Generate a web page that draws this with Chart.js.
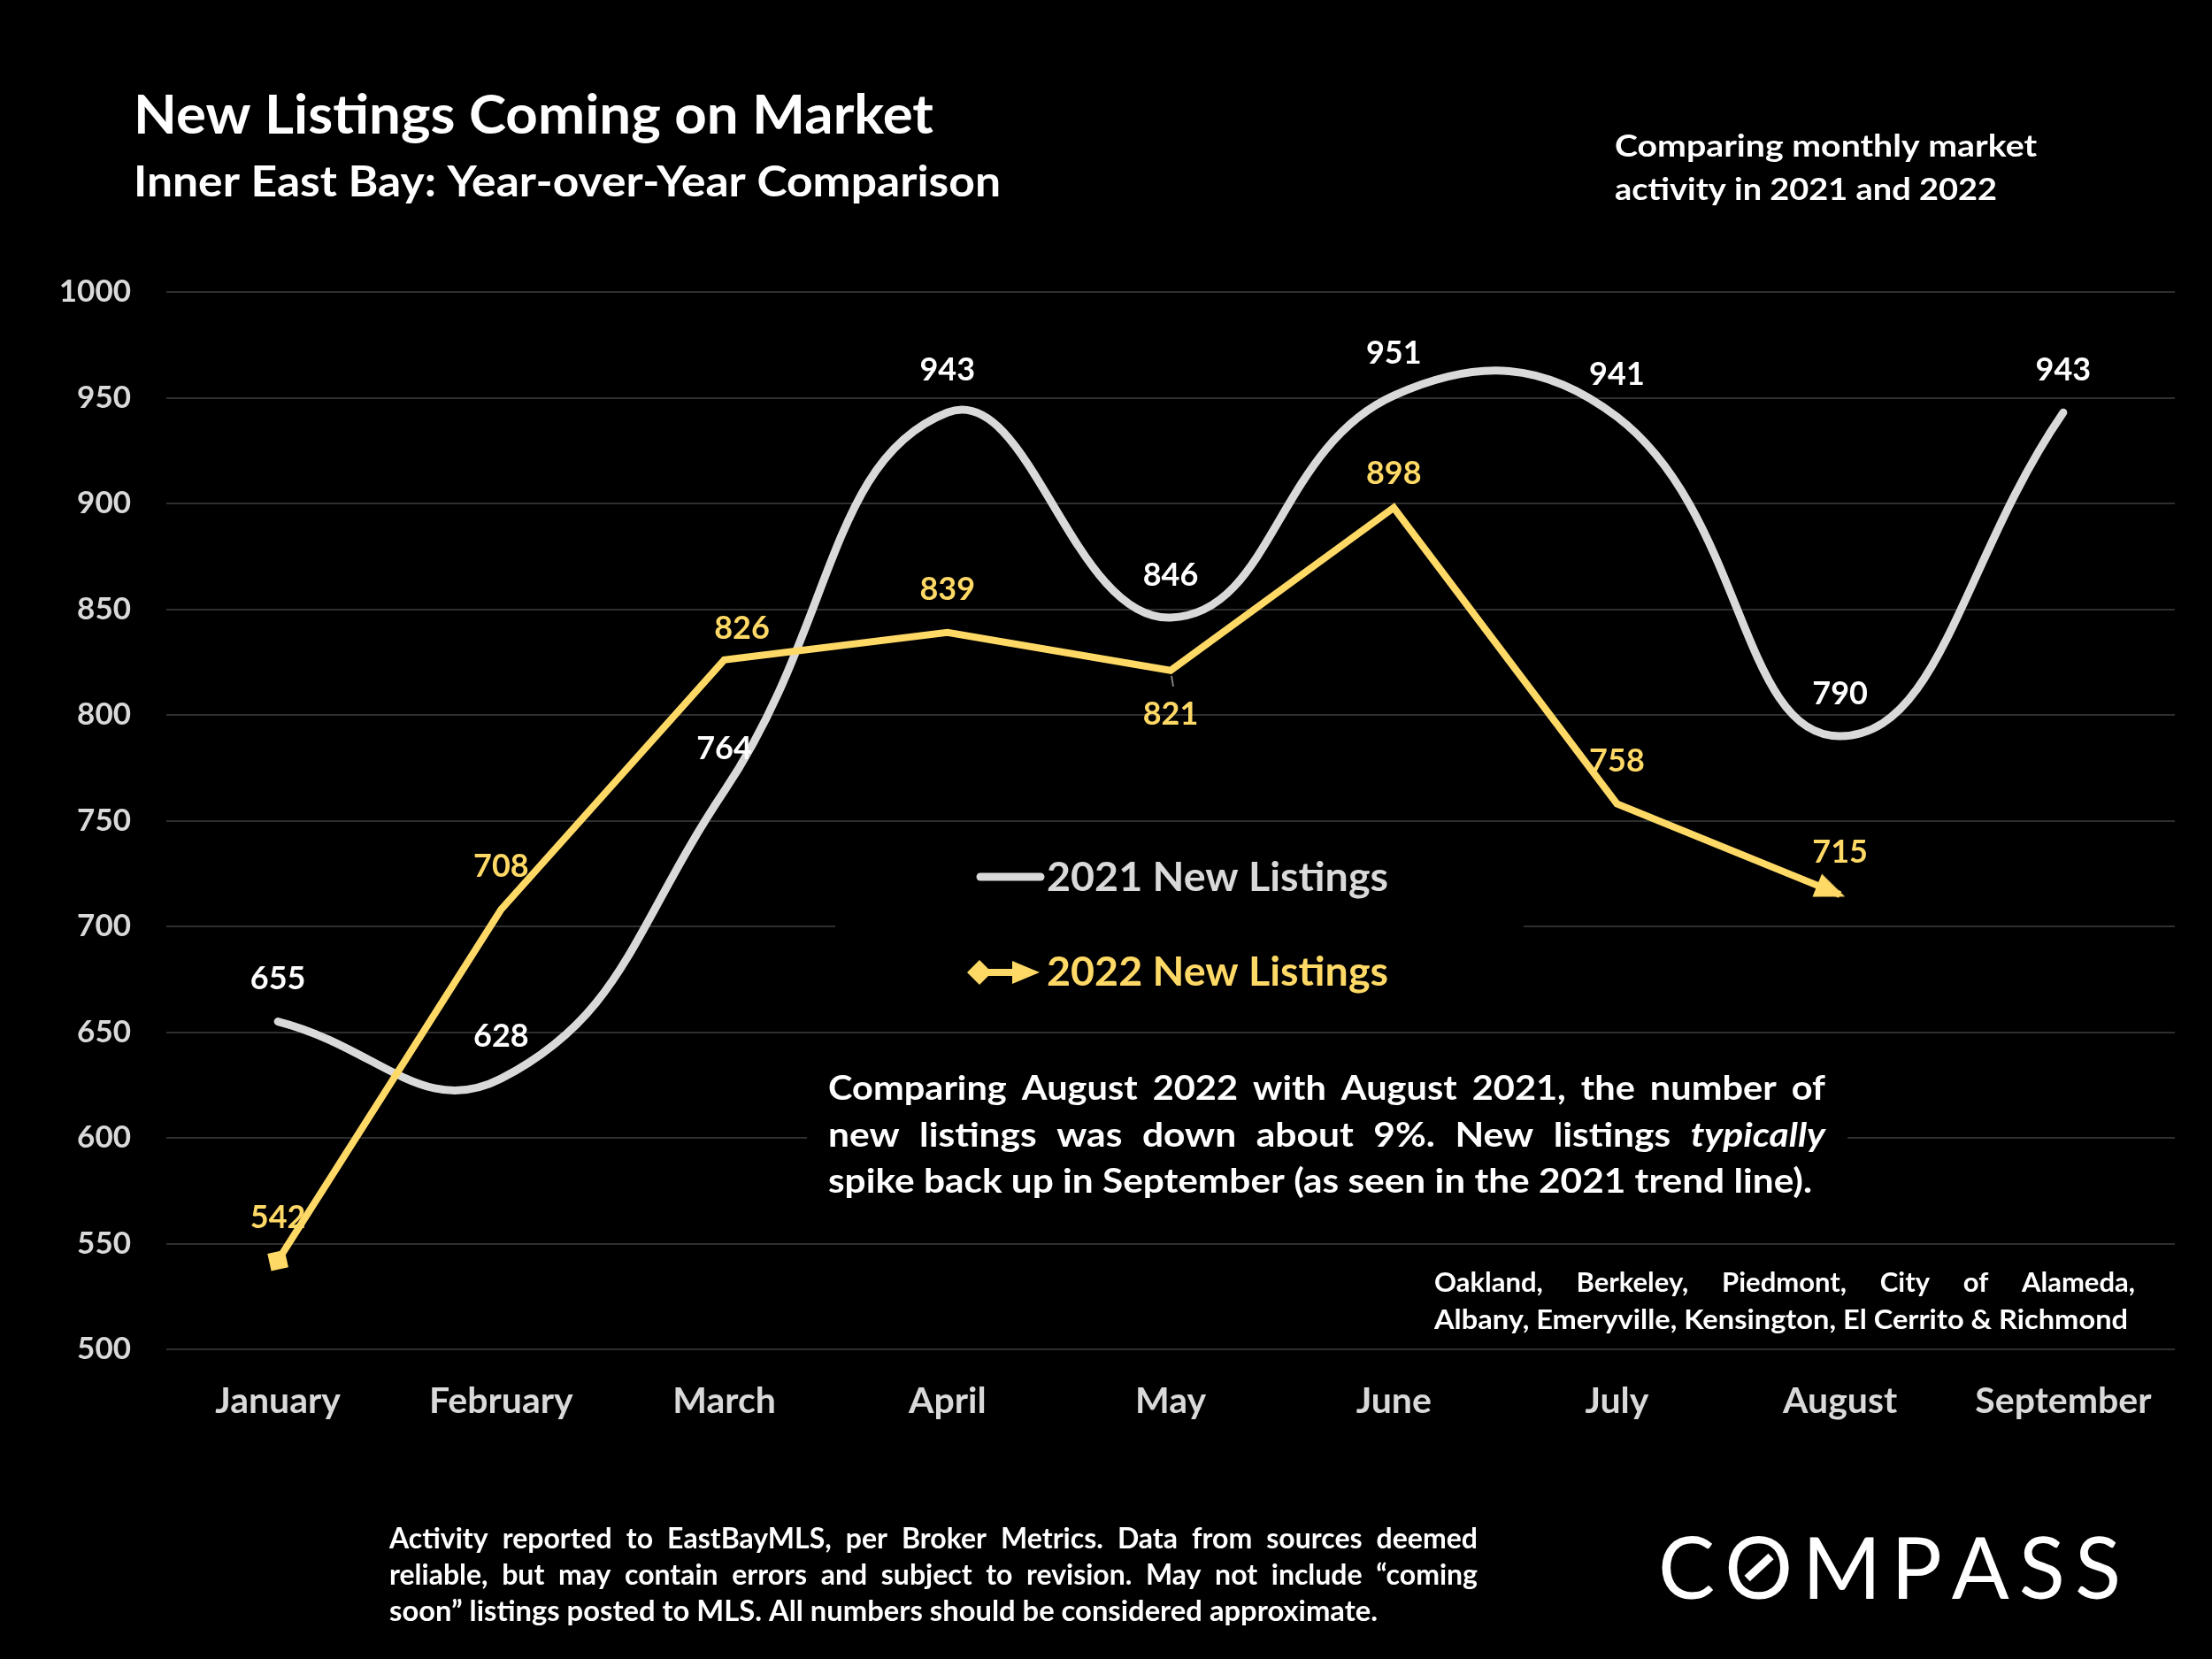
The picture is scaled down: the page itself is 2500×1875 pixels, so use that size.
<!DOCTYPE html>
<html>
<head>
<meta charset="utf-8">
<script src="https://cdn.jsdelivr.net/npm/chart.js@4.4.0/dist/chart.umd.min.js"></script>
<style>
html,body{margin:0;padding:0;background:#000;}
#c{display:block;}
</style>
</head>
<body>
<canvas id="c" width="2500" height="1875" style="width:2500px;height:1875px"></canvas>
<script>
// ---------- DATA ----------
const months = ['January','February','March','April','May','June','July','August','September'];
const listings2021 = [655, 628, 764, 943, 846, 951, 941, 790, 943];
const listings2022 = [542, 708, 826, 839, 821, 898, 758, 715];
const seriesNames = ['2021 New Listings', '2022 New Listings'];
const yMin = 500, yMax = 1000, yStep = 50;

// ---------- STYLE ----------
const FONT = 'Lato, "Open Sans", "Noto Sans", sans-serif';
const GRAY = '#D9D9D9';
const GOLD = '#FFD966';
// label offsets (style only)
const labelDy2021 = [-48, -48, -48, -48, -48, -48, -48, -48, -48];
const labelDy2022 = [-48, -48, -35, -48, 50, -38, -48, -48];
const labelDx2022 = [0, 0, 20, 0, 0, 0, 0, 0];

function makeArrow(len, half, color, overshoot) {
  const size = Math.ceil((len + overshoot) * 2 + 4);
  const c = document.createElement('canvas');
  c.width = size; c.height = size;
  const g = c.getContext('2d');
  const cx = size / 2 + overshoot, cy = size / 2;
  g.fillStyle = color;
  g.beginPath();
  g.moveTo(cx, cy);
  g.lineTo(cx - len, cy - half);
  g.lineTo(cx - len, cy + half);
  g.closePath();
  g.fill();
  return c;
}
const arrowImg = makeArrow(34, 14, GOLD, 6);

function segAngle(c) {
  const ds = c.dataset.data, i = c.dataIndex;
  const xs = c.chart.scales.x, ys = c.chart.scales.y;
  if (!xs || !ys) return 0;
  const j = i === 0 ? 1 : i - 1;
  const x0 = xs.getPixelForValue(i), y0 = ys.getPixelForValue(ds[i]);
  const x1 = xs.getPixelForValue(j), y1 = ys.getPixelForValue(ds[j]);
  return Math.atan2(y0 - y1, x0 - x1) * 180 / Math.PI;
}

// ---------- TEXT HELPERS ----------
function fitText(ctx, text, x, y, w, font, color) {
  ctx.save();
  ctx.font = font;
  ctx.fillStyle = color;
  ctx.textBaseline = 'alphabetic';
  ctx.textAlign = 'left';
  const m = ctx.measureText(text).width;
  ctx.translate(x, y);
  ctx.scale(w / m, 1);
  ctx.fillText(text, 0, 0);
  ctx.restore();
}

// words: array of [text, italic]
function drawWords(ctx, words, x, y, w, size, color, justify, targetGap, kMax) {
  ctx.save();
  ctx.fillStyle = color;
  ctx.textBaseline = 'alphabetic';
  ctx.textAlign = 'left';
  const fN = 'bold ' + size + 'px ' + FONT;
  const fI = 'italic bold ' + size + 'px ' + FONT;
  const widths = words.map(([t, it]) => { ctx.font = it ? fI : fN; return ctx.measureText(t).width; });
  ctx.font = fN;
  const sp = ctx.measureText(' ').width;
  const sum = widths.reduce((a, b) => a + b, 0);
  const n = words.length;
  let k = 1, gap = sp;
  if (justify) {
    const tg = targetGap || sp;
    k = (w - tg * (n - 1)) / sum;
    k = Math.min(k, kMax || 1);
    k = Math.max(k, 0.8);
    gap = (w - k * sum) / (n - 1);
  } else {
    const nat = sum + sp * (n - 1);
    k = w / nat;
    gap = sp * k;
  }
  let cx = x;
  words.forEach(([t, it], i) => {
    ctx.save();
    ctx.font = it ? fI : fN;
    ctx.translate(cx, y);
    ctx.scale(k, 1);
    ctx.fillText(t, 0, 0);
    ctx.restore();
    cx += widths[i] * k + gap;
  });
  ctx.restore();
}
function words(str, italicSet) {
  return str.split(' ').map(t => [t, italicSet ? italicSet.includes(t) : false]);
}

// ---------- DECORATION PLUGIN ----------
const decor = {
  id: 'decor',
  beforeDatasetsDraw(chart) {
    const ctx = chart.ctx;
    ctx.save();
    ctx.fillStyle = '#000';
    ctx.fillRect(944, 958, 778, 178);   // legend backdrop
    ctx.fillRect(912, 1184, 1176, 190); // annotation backdrop
    ctx.restore();
  },
  afterDatasetsDraw(chart) {
    const ctx = chart.ctx;
    ctx.save();
    ctx.textAlign = 'center';
    ctx.textBaseline = 'middle';
    ctx.font = 'bold 36px ' + FONT;
    const m0 = chart.getDatasetMeta(0);
    ctx.fillStyle = '#FFFFFF';
    m0.data.forEach((pt, i) => {
      ctx.fillText(String(listings2021[i]), pt.x, pt.y + labelDy2021[i]);
    });
    const m1 = chart.getDatasetMeta(1);
    ctx.fillStyle = GOLD;
    m1.data.forEach((pt, i) => {
      ctx.fillText(String(listings2022[i]), pt.x + labelDx2022[i], pt.y + labelDy2022[i]);
    });
    const p821 = m1.data[4];
    ctx.strokeStyle = '#7F7F7F';
    ctx.lineWidth = 2;
    ctx.beginPath();
    ctx.moveTo(p821.x + 1, p821.y + 6);
    ctx.lineTo(p821.x + 3, p821.y + 18);
    ctx.stroke();
    ctx.restore();
  },
  afterDraw(chart) {
    const ctx = chart.ctx;
    // Titles
    fitText(ctx, 'New Listings Coming on Market', 151, 151, 904, 'bold 62px ' + FONT, '#FFFFFF');
    fitText(ctx, 'Inner East Bay: Year-over-Year Comparison', 151, 222, 980, 'bold 48px ' + FONT, '#FFFFFF');
    // Right note
    fitText(ctx, 'Comparing monthly market', 1825, 177, 477, 'bold 35px ' + FONT, '#FFFFFF');
    fitText(ctx, 'activity in 2021 and 2022', 1825, 226, 432, 'bold 35px ' + FONT, '#FFFFFF');

    // Legend
    ctx.save();
    ctx.strokeStyle = GRAY;
    ctx.lineWidth = 9;
    ctx.lineCap = 'round';
    ctx.beginPath(); ctx.moveTo(1108, 991); ctx.lineTo(1176, 991); ctx.stroke();
    ctx.strokeStyle = GOLD; ctx.fillStyle = GOLD;
    ctx.lineWidth = 8; ctx.lineCap = 'butt';
    ctx.beginPath(); ctx.moveTo(1107, 1099); ctx.lineTo(1150, 1099); ctx.stroke();
    ctx.beginPath(); ctx.moveTo(1107, 1085); ctx.lineTo(1121, 1099); ctx.lineTo(1107, 1113); ctx.lineTo(1093, 1099); ctx.closePath(); ctx.fill();
    ctx.beginPath(); ctx.moveTo(1175, 1099); ctx.lineTo(1144, 1086); ctx.lineTo(1144, 1112); ctx.closePath(); ctx.fill();
    ctx.restore();
    fitText(ctx, seriesNames[0], 1183, 1007, 386, 'bold 45px ' + FONT, GRAY);
    fitText(ctx, seriesNames[1], 1183, 1114, 386, 'bold 45px ' + FONT, GOLD);

    // Annotation
    drawWords(ctx, words('Comparing August 2022 with August 2021, the number of'), 936, 1243, 1127, 38, '#FFFFFF', true, 17, 1.12);
    drawWords(ctx, words('new listings was down about 9%. New listings typically', ['typically']), 936, 1296, 1127, 38, '#FFFFFF', true, 17, 1.12);
    drawWords(ctx, words('spike back up in September (as seen in the 2021 trend line).'), 936, 1348, 1112, 38, '#FFFFFF', false);

    // Cities
    drawWords(ctx, words('Oakland, Berkeley, Piedmont, City of Alameda,'), 1621, 1460, 792, 31, '#FFFFFF', true);
    drawWords(ctx, words('Albany, Emeryville, Kensington, El Cerrito & Richmond'), 1621, 1502, 784, 31, '#FFFFFF', false);

    // Footer
    drawWords(ctx, words('Activity reported to EastBayMLS, per Broker Metrics. Data from sources deemed'), 440, 1750, 1230, 32, '#FFFFFF', true);
    drawWords(ctx, words('reliable, but may contain errors and subject to revision. May not include \u201Ccoming'), 440, 1791, 1230, 32, '#FFFFFF', true);
    drawWords(ctx, words('soon\u201D listings posted to MLS. All numbers should be considered approximate.'), 440, 1832, 1117, 32, '#FFFFFF', false);

    // COMPASS logo
    ctx.save();
    ctx.font = '400 96px ' + FONT;
    ctx.fillStyle = '#FFFFFF';
    ctx.textBaseline = 'alphabetic';
    const letters = 'COMPASS'.split('');
    const lw = letters.map(l => ctx.measureText(l).width);
    const gap = (523 - lw.reduce((a, b) => a + b, 0)) / (letters.length - 1);
    let x = 1874;
    let oCenter = 0;
    letters.forEach((l, i) => {
      ctx.fillText(l, x, 1807);
      if (i === 1) oCenter = x + lw[i] / 2;
      x += lw[i] + gap;
    });
    ctx.strokeStyle = '#FFFFFF';
    ctx.lineWidth = 9;
    const cy = 1772;
    ctx.beginPath();
    ctx.moveTo(oCenter - 13, cy + 12);
    ctx.lineTo(oCenter + 14, cy - 13);
    ctx.stroke();
    ctx.restore();
  }
};

// ---------- CHART ----------
const last2022 = listings2022.length - 1;
new Chart(document.getElementById('c').getContext('2d'), {
  type: 'line',
  data: {
    labels: months,
    datasets: [
      {
        label: seriesNames[0],
        data: listings2021,
        borderColor: GRAY,
        borderWidth: 9,
        tension: 0.45,
        pointRadius: 0,
        borderCapStyle: 'round',
        borderJoinStyle: 'round',
        fill: false,
        order: 1
      },
      {
        label: seriesNames[1],
        data: listings2022,
        borderColor: GOLD,
        borderWidth: 8,
        tension: 0,
        fill: false,
        borderJoinStyle: 'miter',
        pointStyle: (c) => c.dataIndex === 0 ? 'rectRot' : (c.dataIndex === last2022 ? arrowImg : 'circle'),
        pointRadius: (c) => c.dataIndex === 0 ? 14 : (c.dataIndex === last2022 ? 20 : 0),
        pointRotation: (c) => segAngle(c),
        pointBackgroundColor: GOLD,
        pointBorderColor: GOLD,
        pointBorderWidth: 0,
        pointHoverRadius: 0,
        order: 0
      }
    ]
  },
  options: {
    responsive: false,
    devicePixelRatio: 1,
    animation: false,
    events: [],
    layout: { padding: { top: 330, right: 42, left: 0, bottom: 0 } },
    plugins: { legend: { display: false }, tooltip: { enabled: false } },
    scales: {
      x: {
        offset: true,
        grid: { display: false },
        border: { display: false },
        ticks: { color: GRAY, font: { family: FONT, size: 41, weight: 'bold' }, padding: 26, maxRotation: 0, autoSkip: false },
        afterFit: (s) => { s.height = 350; }
      },
      y: {
        min: yMin,
        max: yMax,
        ticks: { stepSize: yStep, color: GRAY, font: { family: FONT, size: 35, weight: 'bold' }, padding: 40, callback: (v) => String(v) },
        grid: { color: '#2E2E2E', lineWidth: 2, drawTicks: false },
        border: { display: false },
        afterFit: (s) => { s.width = 188; }
      }
    }
  },
  plugins: [decor]
});
</script>
</body>
</html>
